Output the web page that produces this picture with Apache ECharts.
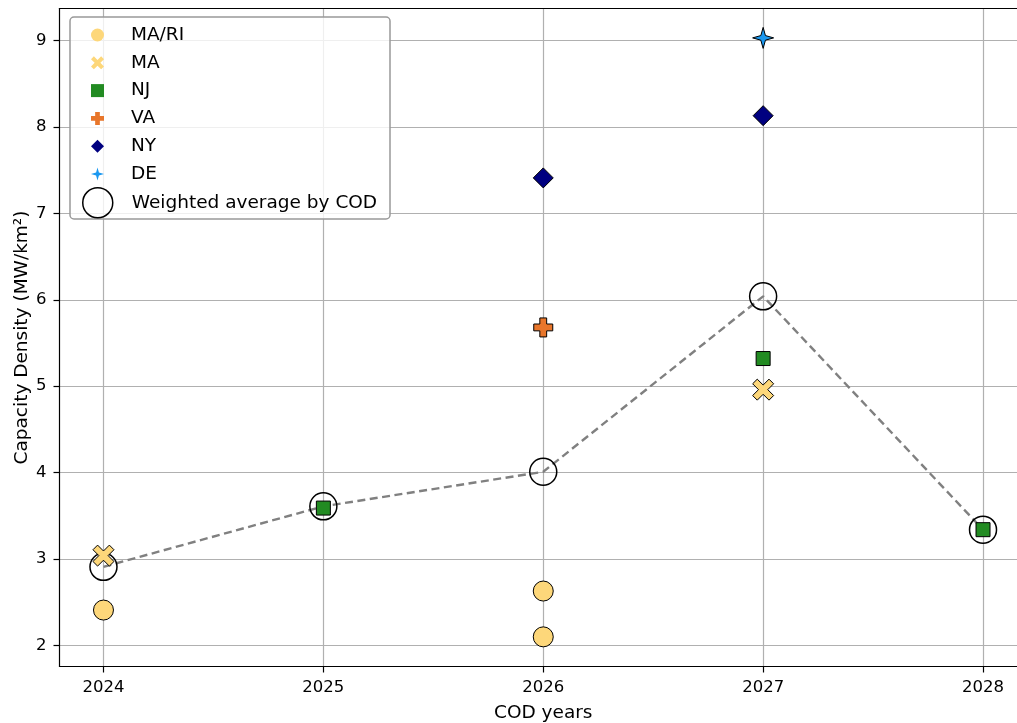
<!DOCTYPE html>
<html>
<head>
<meta charset="utf-8">
<script src="https://cdn.jsdelivr.net/npm/echarts@6/dist/echarts.min.js"></script>
<style>
  html, body { margin: 0; padding: 0; background: #fff; }
  #chart { width: 1017px; height: 723px; }
</style>
</head>
<body>
<div id="chart"></div>
<script>
// capacity density points by state, [COD year, MW/km²]
const maRi = [[2024, 2.41], [2026, 2.63], [2026, 2.10]]
const ma = [[2024, 3.04], [2027, 4.96]]
const nj = [[2025, 3.59], [2027, 5.32], [2028, 3.34]]
const va = [[2026, 5.68]]
const ny = [[2026, 7.41], [2027, 8.13]]
const de = [[2027, 9.03]]

// weighted average per COD year
const avgYears = [2024, 2025, 2026, 2027, 2028]
const avgValues = [2.91, 3.61, 4.01, 6.04, 3.34]

const xTicks = [2024, 2025, 2026, 2027, 2028]
const yTicks = [2, 3, 4, 5, 6, 7, 8, 9]

const FONT = 'DejaVu Sans'

const X_PATH = 'path://M0,2.2 L2.2,0 L5,2.8 L7.8,0 L10,2.2 L7.2,5 L10,7.8 L7.8,10 L5,7.2 L2.2,10 L0,7.8 L2.8,5 Z'
const PLUS_PATH = 'path://M3.2,0 H6.8 V3.2 H10 V6.8 H6.8 V10 H3.2 V6.8 H0 V3.2 H3.2 Z'
const STAR_PATH = 'path://M5,0 L6.1,3.9 L10,5 L6.1,6.1 L5,10 L3.9,6.1 L0,5 L3.9,3.9 Z'

const edge = { borderColor: '#000', borderWidth: 1 }
const spine = { show: true, onZero: false, lineStyle: { color: '#000', width: 1.2 } }

const scatter = (name, data, symbol, size, color) => ({
  name,
  type: 'scatter',
  data,
  symbol,
  symbolSize: size,
  itemStyle: Object.assign({ color, opacity: 1 }, edge),
  emphasis: { disabled: true },
  z: 3
})

const chart = echarts.init(document.getElementById('chart'))

const legendText = { fontFamily: FONT, fontSize: 18.5, color: '#000', lineHeight: 20 }

chart.setOption({
  animation: false,
  backgroundColor: '#fff',
  grid: {
    left: 59.5,
    right: -10,
    top: 8.5,
    bottom: 56.5,
    outerBoundsMode: 'none',
    containLabel: false,
    show: false
  },
  graphic: [{
    type: 'rect',
    z: 5,
    shape: { x: 70, y: 17, width: 320, height: 202, r: 4 },
    style: { fill: 'rgba(255,255,255,0.8)', stroke: '#999', lineWidth: 1.5 }
  }],
  legend: [
    {
      orient: 'vertical',
      left: 91,
      top: 25,
      padding: 0,
      itemWidth: 13,
      itemHeight: 13,
      itemGap: 7.8,
      z: 6,
      textStyle: Object.assign({ padding: [0, 0, 0, 22] }, legendText),
      data: [
        { name: 'MA/RI', itemStyle: { borderWidth: 0 } },
        { name: 'MA', itemStyle: { borderWidth: 0 } },
        { name: 'NJ', itemStyle: { borderWidth: 0 } },
        { name: 'VA', itemStyle: { borderWidth: 0 } },
        { name: 'NY', itemStyle: { borderWidth: 0 } },
        { name: 'DE', itemStyle: { borderWidth: 0 } }
      ]
    },
    {
      orient: 'vertical',
      left: 82,
      top: 187,
      padding: 0,
      itemWidth: 30,
      itemHeight: 30,
      z: 6,
      textStyle: Object.assign({ padding: [0, 0, 0, 14] }, legendText),
      data: [{
        name: 'Weighted average by COD',
        icon: 'circle',
        itemStyle: { color: 'rgba(0,0,0,0)', borderColor: '#000', borderWidth: 1.5 }
      }]
    }
  ],
  xAxis: [
    {
      type: 'value',
      position: 'bottom',
      min: 2023.8,
      max: 2028.2,
      name: 'COD years',
      nameLocation: 'middle',
      nameGap: 37,
      nameMoveOverlap: false,
      nameTextStyle: { fontFamily: FONT, fontSize: 18.5, color: '#000' },
      axisLine: spine,
      axisTick: { show: true, length: 6, customValues: xTicks, lineStyle: { color: '#000', width: 1.2 } },
      axisLabel: {
        customValues: xTicks,
        margin: 13,
        fontFamily: FONT,
        fontSize: 16.5,
        color: '#000',
        formatter: v => String(v)
      },
      splitLine: { show: true, lineStyle: { color: '#b0b0b0', width: 1.2 } }
    },
    {
      // top spine only
      type: 'value',
      position: 'top',
      min: 2023.8,
      max: 2028.2,
      axisLine: spine,
      axisTick: { show: false },
      axisLabel: { show: false },
      splitLine: { show: false }
    }
  ],
  yAxis: {
    type: 'value',
    min: 1.757,
    max: 9.37,
    name: 'Capacity Density (MW/km²)',
    nameLocation: 'middle',
    nameGap: 28,
    nameMoveOverlap: false,
    nameTextStyle: { fontFamily: FONT, fontSize: 18.5, color: '#000' },
    axisLine: spine,
    axisTick: { show: true, length: 6, customValues: yTicks, lineStyle: { color: '#000', width: 1.2 } },
    axisLabel: {
      customValues: yTicks,
      margin: 13,
      fontFamily: FONT,
      fontSize: 16.5,
      color: '#000',
      formatter: v => String(v)
    },
    splitLine: { show: true, lineStyle: { color: '#b0b0b0', width: 1.2 } }
  },
  series: [
    {
      name: 'Weighted average by COD',
      type: 'line',
      data: avgYears.map((y, i) => [y, avgValues[i]]),
      symbol: 'circle',
      symbolSize: 27,
      showAllSymbol: true,
      itemStyle: { color: 'rgba(0,0,0,0)', borderColor: '#000', borderWidth: 1.5 },
      lineStyle: { color: '#808080', width: 2.4, type: [8, 4.5] },
      emphasis: { disabled: true },
      z: 2
    },
    scatter('MA/RI', maRi, 'circle', 20, '#fdd77a'),
    scatter('MA', ma, X_PATH, 21, '#fdd77a'),
    scatter('NJ', nj, 'rect', 14, '#228b22'),
    scatter('VA', va, PLUS_PATH, 19, '#e8762b'),
    scatter('NY', ny, 'diamond', 20, '#000080'),
    scatter('DE', de, STAR_PATH, 21, '#1a98f0')
  ]
})

window.addEventListener('resize', () => chart && chart.resize())
</script>
</body>
</html>
